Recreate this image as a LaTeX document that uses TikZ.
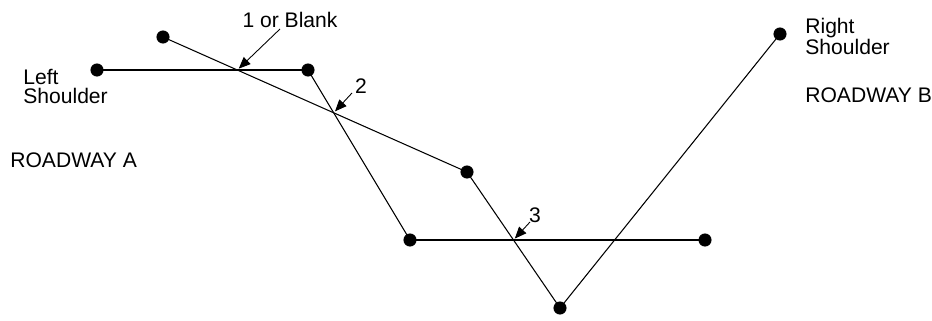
\documentclass[tikz,border=0pt]{standalone}
\usepackage{fontspec}
\setmainfont{Liberation Sans}
\usetikzlibrary{arrows,calc}
\usepackage{tkz-euclide}
\newcommand{\RoadPoints}[1]{\tkzDrawPoints[size=7,color=black,fill=black](#1)}
\tikzset{roadtext/.style={anchor=west,align=left,inner sep=0pt,font=\fontsize{12}{10.5}\selectfont},
  callout/.style={-triangle 45,line width=0.5pt,shorten >=0.04cm}}

\begin{document}
\begin{tikzpicture}
\useasboundingbox (0,0) rectangle (18.64,6.4);
\tkzDefPoints{1.94/5.0/A1,6.16/5.0/A2,8.2/1.6/A3,14.1/1.6/A4}
\tkzDefPoints{3.26/5.66/B1,9.34/2.96/B2,11.2/0.24/B3,15.6/5.72/B4}

% crossing points
\tkzInterLL(A1,A2)(B1,B2) \tkzGetPoint{X1}
\tkzInterLL(A2,A3)(B1,B2) \tkzGetPoint{X2}
\tkzInterLL(A3,A4)(B2,B3) \tkzGetPoint{X3}

\tkzDrawSegments[line width=0.8pt,color=black](A1,A2 A3,A4)
\tkzDrawSegments[line width=0.6pt,color=black](A2,A3 B1,B2 B2,B3 B3,B4)
\RoadPoints{A1,A2,A3,A4,B1,B2,B3,B4}

\node[roadtext] (leftsh) at (0.46,4.67) {Left\\Shoulder};
\node[roadtext] (roada) at (0.2,3.19) {ROADWAY A};
\node[roadtext] (rightsh) at (16.1,5.67) {Right\\Shoulder};
\node[roadtext] (roadb) at (16.1,4.49) {ROADWAY B};

\node[roadtext,anchor=center] (lbl1) at (5.8,6.01) {1 or Blank};
\node[roadtext,anchor=center] (lbl2) at (7.22,4.67) {2};
\node[roadtext,anchor=center] (lbl3) at (10.7,2.1) {3};
\coordinate (s1) at (5.6,5.82);
\coordinate (s2) at (7.04,4.54);
\coordinate (s3) at (10.6,1.96);
\draw[callout] (s1) -- (X1);
\draw[callout] (s2) -- (X2);
\draw[callout] (s3) -- (X3);
\end{tikzpicture}
\end{document}
